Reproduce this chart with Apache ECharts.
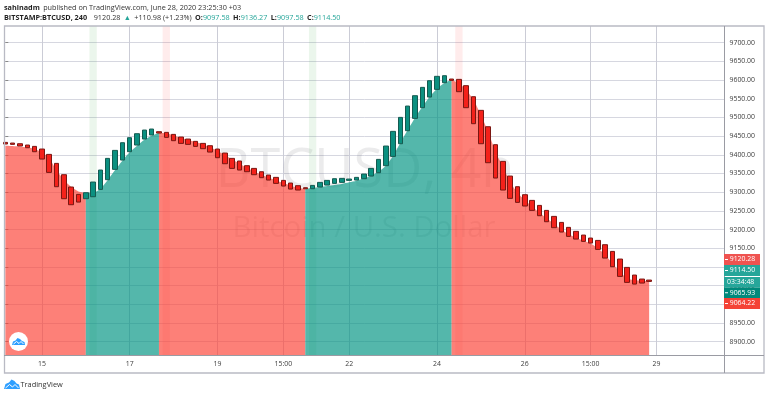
<!DOCTYPE html>
<html><head><meta charset="utf-8">
<style>html,body{margin:0;padding:0;background:#fff}#c{width:768px;height:395px}</style>
<script src="https://cdn.jsdelivr.net/npm/echarts@6/dist/echarts.min.js"></script>
</head><body><div id="c"></div>
<script>
const candleTop=[9433.3,9431.5,9429.7,9426.2,9422.6,9415.5,9401.2,9377.1,9346.8,9313.8,9294.2,9298.6,9327.2,9359.3,9390.5,9411.9,9432.4,9445.8,9456.5,9466.3,9469,9461.9,9460.1,9454.7,9447.6,9442.2,9436,9430.6,9424.4,9415.5,9404.8,9390.5,9383.4,9370.9,9363.7,9354.8,9345.9,9339.7,9331.6,9324.5,9317.4,9312,9318.2,9326.3,9331.6,9336.1,9337,9335.2,9339.7,9348.6,9363.7,9387.8,9423.5,9462.8,9500.2,9530.5,9558.2,9580.5,9598.3,9610,9611.7,9602.8,9601.9,9585,9555.5,9519,9475.2,9427.1,9382.5,9343.2,9314.7,9293.3,9278.1,9264.7,9251.3,9235.3,9219.2,9205.9,9195.2,9185.3,9177.3,9171,9159.5,9141.6,9121.1,9098.8,9078.3,9067.6,9064.9];
const candleBottom=[9428.9,9428,9423.5,9419,9408.3,9388.7,9353,9314.7,9282.6,9266.5,9273.6,9282.6,9287.9,9307.5,9333.4,9361.1,9386,9408.3,9426.2,9442.2,9453,9458.3,9446.7,9437.8,9430.6,9428,9422.6,9416.4,9407.4,9392.3,9376.2,9363.7,9359.3,9354.8,9346.8,9338.8,9332.5,9323.6,9316.5,9308.4,9305.8,9309.3,9309.3,9313.8,9319.1,9323.6,9326.3,9331.6,9332.5,9336.1,9343.2,9352.1,9370.9,9395.8,9429.7,9464.5,9497.5,9526.1,9554.6,9575.1,9593,9599.2,9568.9,9526.1,9483.3,9429.7,9378.9,9337.9,9305.8,9283.5,9272.8,9263,9251.3,9237.1,9221,9205,9193.4,9181.8,9174.6,9168.4,9163.9,9147,9123.8,9100.6,9074.7,9058.7,9054.2,9056.9,9061.3];
const candleRising=[0,0,0,0,0,0,0,0,0,0,0,1,1,1,1,1,1,1,1,1,1,0,0,0,0,0,0,0,0,0,0,0,0,0,0,0,0,0,0,0,0,0,1,1,1,1,1,1,1,1,1,1,1,1,1,1,1,1,1,1,1,0,0,0,0,0,0,0,0,0,0,0,0,0,0,0,0,0,0,0,0,0,0,0,0,0,0,0,0];
const areaValues=[9424.4,9423.5,9421.7,9420,9415.5,9406.6,9390.5,9359.3,9332.5,9314.7,9302.2,9298.6,9298.6,9309.3,9332.5,9359.3,9384.3,9406.6,9424.4,9440.5,9451.2,9459.2,9457.4,9452,9445.8,9439.6,9434.2,9428,9420,9411,9399.4,9387.8,9377.1,9365.5,9355.7,9346.8,9338.8,9331.6,9324.5,9317.4,9312,9309.3,9311.1,9313.8,9316.5,9319.1,9321.8,9326.3,9330.7,9337,9344.1,9354.8,9370.9,9396.7,9432.4,9466.3,9499.3,9528.8,9555.5,9576.9,9592.1,9600.1,9591.2,9573.4,9546.6,9506.5,9461.9,9408.3,9368.2,9328.1,9298.6,9279,9261.2,9246,9230,9214.8,9200.5,9188,9178.2,9170.2,9163,9149.7,9131.8,9109.5,9087.2,9069.4,9064.9,9063.1,9062.2];
const areaBreaks=[0,11,21,41,61,88];
const areaRising=[0,1,0,1,0];
const bandCenters=[12,22,42,62];
const bandRising=[1,0,1,0];
const xTickBars=[5,17,29,38,47,59,71,80,89];
const xTickLabels=['15','17','19','15:00','22','24','26','15:00','29'];
const priceTicks=[8900,8950,9000,9050,9100,9150,9200,9250,9300,9350,9400,9450,9500,9550,9600,9650,9700];
const tagTexts=['9120.28','9114.50','03:34:48','9065.93','9064.22'];

const FONT='"Open Sans","Noto Sans",sans-serif';
const chart=echarts.init(document.getElementById('c'),null,{renderer:'canvas'});

const candleData=candleTop.map((t,i)=>{
  const b=candleBottom[i];
  return candleRising[i]?[i,b,t,b,t]:[i,t,b,b,t];
});
const areaSeries=areaRising.map((r,k)=>({
  type:'line',silent:true,symbol:'none',smooth:0.25,z:2,
  data:areaValues.map((v,i)=>[i,v]).slice(areaBreaks[k],areaBreaks[k+1]+1),
  lineStyle:{width:0},
  areaStyle:{origin:'start',color:r?'rgba(0,148,130,0.67)':'rgba(252,65,53,0.67)',opacity:1}
}));

const tagBoxes=[[254,11,'#ef5350'],[265,11,'#26a69a'],[277,10.5,'#26a69a'],[287.5,10.5,'#00897b'],[298,11,'#f44336']];
const richHead={b:{fontSize:7.25,fontWeight:'bold',fontFamily:FONT,fill:'#1f1f1f'},n:{fontSize:7.25,fontFamily:FONT,fill:'#333'},g:{fontSize:7.25,fontFamily:FONT,fill:'#26a69a'}};
const graphics=[
  {type:'rect',silent:true,z:50,shape:{x:4.5,y:26,width:759.5,height:347},style:{fill:'none',stroke:'#b9bac4',lineWidth:1.3}},
  {type:'line',silent:true,z:50,shape:{x1:4,y1:355.5,x2:764,y2:355.5},style:{stroke:'#9a9ba3',lineWidth:1}},
  {type:'line',silent:true,z:50,shape:{x1:724.5,y1:26,x2:724.5,y2:373},style:{stroke:'#9a9ba3',lineWidth:1}},
  {type:'text',silent:true,z:1,style:{x:365,y:172,text:'BTCUSD, 4h',fill:'rgba(70,70,80,0.11)',fontSize:54,fontFamily:FONT,align:'center',verticalAlign:'middle'}},
  {type:'text',silent:true,z:1,style:{x:364,y:229,text:'Bitcoin / U.S. Dollar',fill:'rgba(70,70,80,0.11)',fontSize:29.4,fontFamily:FONT,align:'center',verticalAlign:'middle'}},
  {type:'text',silent:true,z:60,style:{x:4,y:7.5,verticalAlign:'middle',
    text:'{b|sahinadm} {n|published on TradingView.com, June 28, 2020 23:25:30 +03}',rich:richHead}},
  {type:'text',silent:true,z:60,style:{x:4,y:18,verticalAlign:'middle',
    text:'{b|BITSTAMP:BTCUSD, 240}  {n|9120.28} {g|▲} {n|+110.98 (+1.23%)} {b|O:}{g|9097.58} {b|H:}{g|9136.27} {b|L:}{g|9097.58} {b|C:}{g|9114.50}',rich:richHead}},
  {type:'circle',silent:true,z:60,shape:{cx:18.5,cy:341.5,r:9.5},style:{fill:'#fff'}},
  {type:'polygon',silent:true,z:61,shape:{points:[[12,345],[13,341.5],[15.5,340.5],[17.5,338],[20,339],[22,341],[24.5,342],[25,345]]},style:{fill:'#2e9fff'}},
  {type:'polyline',silent:true,z:62,shape:{points:[[13.5,344],[16.5,341.5],[19,343.5],[21,341.5],[23.5,344]]},style:{stroke:'#fff',lineWidth:1,fill:'none'}},
  {type:'polygon',silent:true,z:60,shape:{points:[[4,389],[5.5,384],[9,382.5],[11.5,379.5],[14.5,381],[16.5,383.5],[19,384.5],[20,389]]},style:{fill:'#2e9fff'}},
  {type:'polyline',silent:true,z:61,shape:{points:[[5.5,388],[9.5,384.5],[12.5,387],[15,384.5],[18.5,388]]},style:{stroke:'#fff',lineWidth:1,fill:'none'}},
  {type:'text',silent:true,z:60,style:{x:20.5,y:384.5,text:'TradingView',fontSize:7.4,fontFamily:FONT,fill:'#333',verticalAlign:'middle'}}
];
tagTexts.forEach((t,i)=>{
  const b=tagBoxes[i];
  graphics.push({type:'rect',silent:true,z:70,shape:{x:724,y:b[0],width:36,height:b[1]},style:{fill:b[2]}});
  graphics.push({type:'text',silent:true,z:71,style:{x:i===2?727:729.7,y:b[0]+b[1]/2,text:t,fontSize:6.9,fontFamily:FONT,fill:'#fff',verticalAlign:'middle'}});
  if(i!==2)graphics.push({type:'line',silent:true,z:71,shape:{x1:725,y1:b[0]+b[1]/2,x2:728,y2:b[0]+b[1]/2},style:{stroke:'#fff',lineWidth:1}});
});

chart.setOption({
  animation:false,
  grid:{left:4,top:26,width:720.5,height:329,containLabel:false},
  xAxis:{type:'value',min:-0.18,max:98.3,
    axisLine:{show:false},
    axisTick:{show:false,customValues:xTickBars},
    splitLine:{show:true,lineStyle:{color:'#cbccd6',width:1}},
    axisLabel:{customValues:xTickBars,margin:6,color:'#3c3c3c',fontSize:6.9,fontFamily:FONT,
      formatter:v=>xTickLabels[xTickBars.indexOf(v)]}
  },
  yAxis:{type:'value',position:'right',min:8864.4,max:9744.7,
    axisLine:{show:false},
    axisTick:{show:true,length:3,customValues:priceTicks,lineStyle:{color:'#888'}},
    splitLine:{show:true,lineStyle:{color:'#d6d7e0',width:1}},
    axisLabel:{customValues:priceTicks,margin:5,color:'#3c3c3c',fontSize:6.9,fontFamily:FONT,
      formatter:v=>v.toFixed(2)}
  },
  series:[...areaSeries,
    {type:'line',silent:true,symbol:'none',z:3,data:[],
      markArea:{silent:true,data:bandCenters.map((c,i)=>[
        {xAxis:c-0.5,itemStyle:{color:bandRising[i]?'rgba(76,175,80,0.11)':'rgba(255,82,82,0.11)'}},
        {xAxis:c+0.5}])}},
    {type:'candlestick',silent:true,z:4,barWidth:5,data:candleData,encode:{x:0,y:[1,2,3,4]},
      itemStyle:{color:'#0b9080',color0:'#f4211a',borderColor:'#155a50',borderColor0:'#7a1712',borderWidth:1}}
  ],
  graphic:graphics
});
</script></body></html>
